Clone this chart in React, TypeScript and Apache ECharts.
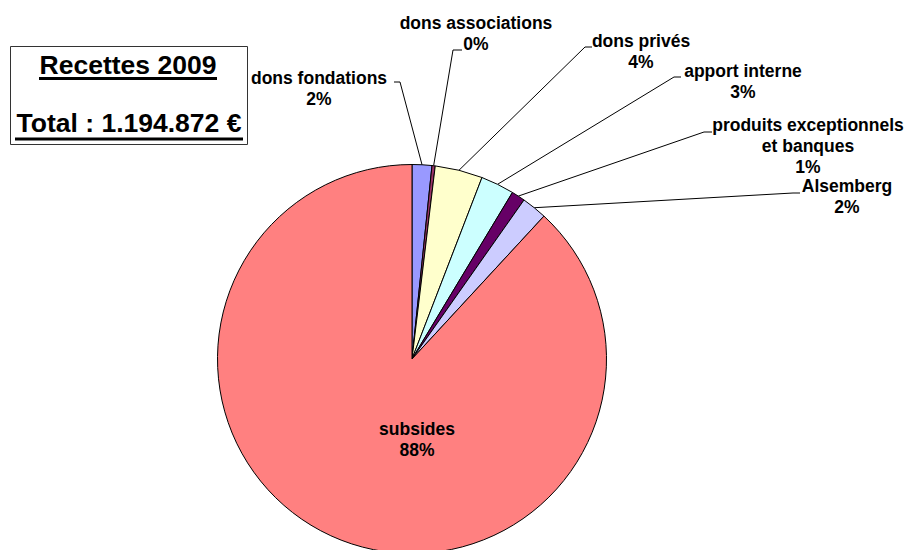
import React, { useEffect, useRef } from "react";
import * as echarts from "echarts";

const categories = [
  "dons fondations",
  "dons associations",
  "dons privés",
  "apport interne",
  "produits exceptionnels\net banques",
  "Alsemberg",
  "subsides",
];
const values = [19600, 3200, 47200, 33200, 13500, 25100, 1053072];
const colors = ["#9999FF", "#993366", "#FFFFCC", "#CCFFFF", "#660066", "#CCCCFF", "#FF8080"];
const titleLines = ["Recettes 2009", "Total : 1.194.872 €"];

// label placement (block centre) and leader-line knee/end points
const labelSpots: { x: number; y: number; pts?: number[][] }[] = [
  { x: 319, y: 88, pts: [[400, 82], [394, 82]] },
  { x: 476, y: 33, pts: [[453, 50], [462, 50]] },
  { x: 641, y: 51, pts: [[585, 47], [592, 47]] },
  { x: 743, y: 81, pts: [[674, 77], [681, 77]] },
  { x: 808, y: 146, pts: [[704, 132], [712, 132]] },
  { x: 847, y: 196, pts: [[793, 193], [800, 193]] },
  { x: 417, y: 439 },
];

const FONT = "'Liberation Sans', Arial, sans-serif";

export default function App() {
  const ref = useRef<HTMLDivElement>(null);
  useEffect(() => {
    if (!ref.current) return;
    const chart = echarts.init(ref.current, null, { renderer: "svg" });
    const data = categories.map((name, i) => {
      const item: any = { name, value: values[i], itemStyle: { color: colors[i] } };
      if (i === categories.length - 1) {
        item.label = { position: "inside" };
        item.labelLine = { show: false };
      }
      return item;
    });
    chart.setOption({
      animation: false,
      backgroundColor: "#ffffff",
      graphic: [
        {
          type: "rect",
          shape: { x: 10.5, y: 46.5, width: 237, height: 98 },
          style: { fill: "#ffffff", stroke: "#333333", lineWidth: 1 },
          z: 10,
        },
        {
          type: "text",
          x: 128,
          y: 65,
          style: {
            text: titleLines[0],
            font: `bold 26.5px ${FONT}`,
            fill: "#000",
            align: "center",
            verticalAlign: "middle",
          },
          z: 11,
        },
        {
          type: "line",
          shape: { x1: 39, y1: 78.5, x2: 217, y2: 78.5 },
          style: { stroke: "#000", lineWidth: 2.8 },
          z: 11,
        },
        {
          type: "text",
          x: 129,
          y: 123,
          style: {
            text: titleLines[1],
            font: `bold 26.5px ${FONT}`,
            fill: "#000",
            align: "center",
            verticalAlign: "middle",
          },
          z: 11,
        },
        {
          type: "line",
          shape: { x1: 15, y1: 139, x2: 243, y2: 139 },
          style: { stroke: "#000", lineWidth: 2.8 },
          z: 11,
        },
      ],
      series: [
        {
          type: "pie",
          center: [412, 359],
          radius: 194.5,
          startAngle: 90,
          clockwise: true,
          avoidLabelOverlap: false,
          data,
          itemStyle: { borderColor: "#000", borderWidth: 1 },
          label: {
            show: true,
            position: "outside",
            formatter: (p: any) => `${p.name}\n${Math.round(p.percent)}%`,
            color: "#000",
            fontFamily: FONT,
            fontWeight: "bold",
            fontSize: 17.5,
            lineHeight: 21,
            align: "center",
          },
          labelLine: {
            show: true,
            lineStyle: { color: "#000", width: 1 },
          },
          labelLayout: (params: any) => {
            const s = labelSpots[params.dataIndex];
            const out: any = { x: s.x, y: s.y, align: "center", verticalAlign: "middle" };
            if (s.pts && params.labelLinePoints) {
              out.labelLinePoints = [params.labelLinePoints[0], s.pts[0], s.pts[1]];
            }
            return out;
          },
          emphasis: { disabled: true },
        },
      ],
    });
    return () => chart.dispose();
  }, []);
  return (
    <div
      ref={ref}
      style={{ position: "fixed", left: 0, top: 0, width: 907, height: 550 }}
    />
  );
}
